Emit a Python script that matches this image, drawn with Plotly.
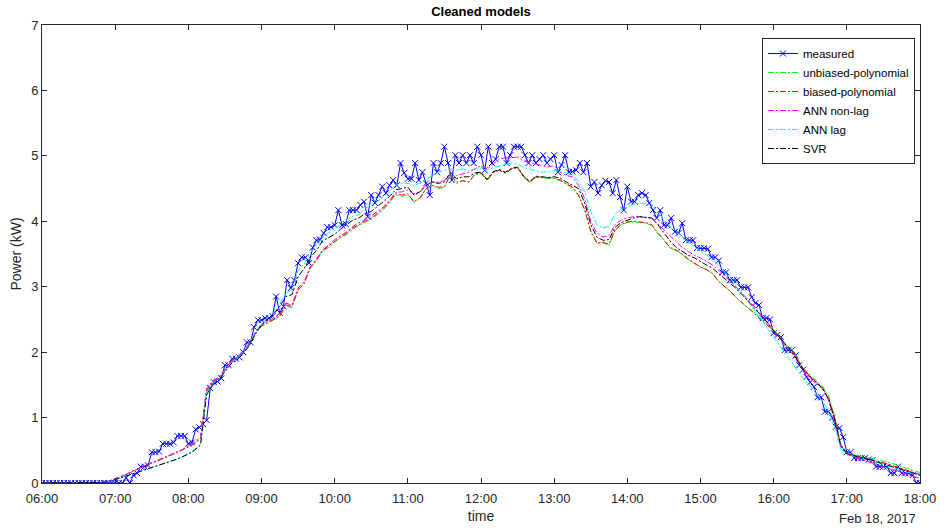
import pandas as pd
import plotly.graph_objects as go

# ---- data ----
measured_time = pd.date_range("2017-02-18 06:00", periods=241, freq="3min")
model_time = pd.date_range("2017-02-18 06:00", periods=145, freq="5min")

measured = [
    0, 0, 0, 0, 0, 0, 0, 0, 0, 0, 0, 0, 0, 0, 0, 0, 0, 0, 0, 0,
    0, 0, 0, 0.08, 0, 0.12, 0.15, 0.25, 0.25, 0.27, 0.47, 0.47, 0.48, 0.6, 0.6, 0.6, 0.62, 0.72, 0.72, 0.72,
    0.6, 0.62, 0.82, 0.85, 0.9, 0.96, 1.45, 1.54, 1.55, 1.6, 1.8, 1.8, 1.9, 1.9, 1.92, 2.0, 2.15, 2.15, 2.38, 2.49,
    2.49, 2.52, 2.52, 2.55, 2.85, 2.6, 2.7, 3.1, 2.98, 3.1, 3.36, 3.45, 3.45, 3.36, 3.6, 3.71, 3.72, 3.82, 3.91, 3.91,
    3.94, 4.17, 3.94, 3.96, 4.17, 4.17, 4.17, 4.25, 4.3, 4.07, 4.4, 4.28, 4.4, 4.53, 4.43, 4.55, 4.63, 4.55, 4.89, 4.74,
    4.65, 4.65, 4.89, 4.63, 4.75, 4.58, 4.4, 4.89, 4.75, 4.89, 5.14, 4.89, 4.63, 5.01, 4.89, 5.01, 4.89, 5.01, 4.89, 5.14,
    5.01, 4.78, 5.14, 4.89, 4.95, 5.14, 5.14, 4.89, 5.01, 5.14, 5.14, 5.14, 5.01, 4.89, 5.01, 4.89, 4.95, 5.01, 4.89, 4.95,
    5.01, 4.75, 4.86, 5.01, 4.75, 4.76, 4.78, 4.89, 4.75, 4.89, 4.53, 4.6, 4.43, 4.55, 4.62, 4.6, 4.43, 4.63, 4.37, 4.17,
    4.53, 4.3, 4.3, 4.4, 4.43, 4.4, 4.28, 4.17, 4.05, 4.17, 3.94, 3.94, 4.05, 3.84, 3.82, 3.97, 3.71, 3.71, 3.71, 3.59,
    3.59, 3.59, 3.58, 3.45, 3.45, 3.4, 3.22, 3.22, 3.1, 3.1, 3.1, 2.99, 2.99, 2.99, 2.84, 2.75, 2.72, 2.52, 2.52, 2.5,
    2.29, 2.26, 2.23, 2.03, 2.03, 2.03, 1.95, 1.8, 1.73, 1.62, 1.54, 1.47, 1.31, 1.31, 1.09, 1.09, 1.0, 0.86, 0.84, 0.7,
    0.47, 0.47, 0.38, 0.38, 0.38, 0.38, 0.36, 0.35, 0.25, 0.25, 0.25, 0.25, 0.15, 0.15, 0.25, 0.15, 0.15, 0.15, 0.12, 0.0,
    0.0,
]

unbiased_poly = [
    0, 0, 0, 0, 0, 0, 0, 0, 0, 0, 0.01, 0.03,
    0.06, 0.1, 0.14, 0.19, 0.23, 0.27, 0.3, 0.34, 0.38, 0.42, 0.46, 0.5,
    0.56, 0.61, 0.69, 1.4, 1.54, 1.6, 1.72, 1.84, 1.9, 2.0, 2.1, 2.28,
    2.4, 2.44, 2.5, 2.55, 2.7, 2.68, 2.95, 3.05, 3.28, 3.4, 3.54, 3.6,
    3.68, 3.75, 3.8, 3.88, 3.94, 3.98, 4.03, 4.1, 4.18, 4.28, 4.4, 4.38,
    4.4, 4.29, 4.35, 4.5, 4.54, 4.5, 4.52, 4.72, 4.58, 4.62, 4.6, 4.71,
    4.73, 4.62, 4.74, 4.78, 4.73, 4.8, 4.82, 4.67, 4.59, 4.67, 4.66, 4.65,
    4.65, 4.62, 4.56, 4.51, 4.39, 4.17, 3.84, 3.66, 3.67, 3.63, 3.86, 3.94,
    3.98, 3.99, 3.98, 3.97, 3.94, 3.81, 3.71, 3.59, 3.55, 3.49, 3.41, 3.35,
    3.3, 3.26, 3.2, 3.08, 3.0, 2.92, 2.82, 2.74, 2.66, 2.6, 2.5, 2.42,
    2.35, 2.24, 2.12, 2.04, 1.9, 1.74, 1.65, 1.57, 1.48, 1.33, 1.02, 0.6,
    0.46, 0.44, 0.42, 0.4, 0.38, 0.36, 0.33, 0.31, 0.28, 0.25, 0.22, 0.19,
    0.16,
]

biased_poly = [
    0, 0, 0, 0, 0, 0, 0, 0, 0, 0, 0.01, 0.03,
    0.06, 0.1, 0.14, 0.19, 0.23, 0.27, 0.3, 0.34, 0.38, 0.42, 0.46, 0.5,
    0.55, 0.6, 0.68, 1.42, 1.55, 1.6, 1.72, 1.85, 1.9, 2.0, 2.12, 2.3,
    2.4, 2.45, 2.5, 2.55, 2.72, 2.7, 2.95, 3.05, 3.3, 3.4, 3.55, 3.62,
    3.7, 3.76, 3.82, 3.9, 3.95, 4.0, 4.05, 4.12, 4.2, 4.3, 4.42, 4.4,
    4.42, 4.3, 4.36, 4.5, 4.55, 4.52, 4.53, 4.72, 4.6, 4.62, 4.6, 4.72,
    4.74, 4.63, 4.75, 4.78, 4.74, 4.8, 4.82, 4.68, 4.6, 4.68, 4.67, 4.66,
    4.66, 4.63, 4.57, 4.52, 4.4, 4.18, 3.85, 3.67, 3.68, 3.65, 3.87, 3.95,
    3.99, 4.0, 3.99, 3.98, 3.95, 3.82, 3.72, 3.6, 3.56, 3.5, 3.42, 3.36,
    3.3, 3.26, 3.2, 3.08, 3.0, 2.92, 2.82, 2.74, 2.65, 2.58, 2.48, 2.4,
    2.33, 2.22, 2.1, 2.02, 1.88, 1.72, 1.63, 1.55, 1.46, 1.3, 1.0, 0.58,
    0.45, 0.42, 0.4, 0.38, 0.36, 0.34, 0.31, 0.28, 0.25, 0.22, 0.19, 0.16,
    0.13,
]

ann_nonlag = [
    0, 0, 0, 0, 0, 0, 0, 0, 0, 0, 0.01, 0.03,
    0.06, 0.1, 0.14, 0.19, 0.23, 0.27, 0.31, 0.35, 0.39, 0.43, 0.47, 0.51,
    0.57, 0.62, 0.7, 1.45, 1.56, 1.62, 1.74, 1.86, 1.92, 2.02, 2.13, 2.3,
    2.42, 2.47, 2.52, 2.58, 2.75, 2.72, 2.98, 3.08, 3.3, 3.42, 3.56, 3.64,
    3.72, 3.78, 3.84, 3.92, 3.98, 4.02, 4.08, 4.15, 4.22, 4.32, 4.44, 4.45,
    4.48, 4.42, 4.45, 4.56, 4.6, 4.6, 4.62, 4.75, 4.7, 4.72, 4.75, 4.8,
    4.85, 4.8, 4.88, 4.95, 4.97, 4.98, 4.98, 4.92, 4.9, 4.88, 4.85, 4.83,
    4.85, 4.75, 4.7, 4.68, 4.55, 4.35, 4.0, 3.82, 3.76, 3.78, 3.95, 4.02,
    4.05, 4.07, 4.07, 4.06, 4.05, 3.96, 3.87, 3.78, 3.68, 3.6, 3.54, 3.48,
    3.44, 3.38, 3.33, 3.25, 3.16, 3.08, 2.98, 2.88, 2.78, 2.68, 2.56, 2.45,
    2.32, 2.2, 2.08, 1.98, 1.84, 1.7, 1.6, 1.52, 1.44, 1.27, 0.95, 0.55,
    0.44, 0.4, 0.37, 0.34, 0.31, 0.28, 0.25, 0.22, 0.18, 0.15, 0.12, 0.09,
    0.07,
]

ann_lag = [
    0, 0, 0, 0, 0, 0, 0, 0, 0, 0, 0.01, 0.02,
    0.05, 0.08, 0.11, 0.14, 0.17, 0.2, 0.23, 0.26, 0.29, 0.32, 0.36, 0.4,
    0.45, 0.51, 0.6, 1.38, 1.52, 1.58, 1.72, 1.84, 1.9, 2.0, 2.12, 2.3,
    2.45, 2.52, 2.6, 2.75, 2.9, 2.95, 3.25, 3.35, 3.52, 3.62, 3.75, 3.82,
    3.88, 3.95, 4.02, 4.08, 4.1, 4.2, 4.25, 4.3, 4.38, 4.45, 4.55, 4.58,
    4.58, 4.55, 4.58, 4.63, 4.7, 4.75, 4.78, 4.8, 4.78, 4.8, 4.78, 4.8,
    4.8, 4.78, 4.82, 4.84, 4.86, 4.89, 4.88, 4.82, 4.8, 4.78, 4.75, 4.76,
    4.78, 4.76, 4.74, 4.72, 4.6, 4.45, 4.15, 3.95, 3.9, 3.92, 4.12, 4.18,
    4.22, 4.26, 4.28, 4.27, 4.25, 4.15, 4.02, 3.92, 3.84, 3.75, 3.68, 3.61,
    3.55, 3.48, 3.42, 3.32, 3.22, 3.12, 3.0, 2.88, 2.75, 2.62, 2.5, 2.36,
    2.23, 2.1, 1.95, 1.85, 1.7, 1.58, 1.48, 1.37, 1.25, 1.1, 0.85, 0.52,
    0.44, 0.41, 0.38, 0.36, 0.34, 0.31, 0.29, 0.26, 0.23, 0.2, 0.17, 0.14,
    0.12,
]

svr = [
    0, 0, 0, 0, 0, 0, 0, 0, 0, 0, 0.01, 0.02,
    0.05, 0.08, 0.11, 0.14, 0.17, 0.2, 0.23, 0.26, 0.29, 0.32, 0.36, 0.4,
    0.44, 0.5, 0.58, 1.35, 1.5, 1.58, 1.7, 1.82, 1.88, 1.98, 2.1, 2.28,
    2.42, 2.5, 2.58, 2.7, 2.85, 2.88, 3.15, 3.28, 3.45, 3.55, 3.7, 3.75,
    3.8, 3.88, 3.95, 4.02, 4.05, 4.12, 4.15, 4.22, 4.3, 4.38, 4.48, 4.5,
    4.52, 4.4, 4.45, 4.55, 4.6, 4.58, 4.6, 4.74, 4.65, 4.68, 4.68, 4.74,
    4.75, 4.64, 4.76, 4.79, 4.75, 4.81, 4.83, 4.69, 4.61, 4.69, 4.68, 4.67,
    4.68, 4.66, 4.6, 4.55, 4.5, 4.28, 3.95, 3.76, 3.71, 3.72, 3.91, 3.98,
    4.02, 4.05, 4.07, 4.06, 4.05, 3.95, 3.82, 3.7, 3.6, 3.54, 3.48, 3.44,
    3.38, 3.33, 3.28, 3.2, 3.12, 3.05, 2.96, 2.86, 2.76, 2.66, 2.56, 2.45,
    2.33, 2.22, 2.1, 2.0, 1.86, 1.72, 1.62, 1.54, 1.45, 1.28, 0.98, 0.57,
    0.45, 0.42, 0.39, 0.37, 0.35, 0.32, 0.3, 0.27, 0.24, 0.21, 0.18, 0.15,
    0.12,
]

model_names = ["unbiased-polynomial", "biased-polynomial", "ANN non-lag", "ANN lag", "SVR"]
model_values = [unbiased_poly, biased_poly, ann_nonlag, ann_lag, svr]
model_colors = ["#00ff00", "#ff0000", "#ff00ff", "#00ffff", "#000000"]

x_tick_labels = ["06:00", "07:00", "08:00", "09:00", "10:00", "11:00", "12:00",
                 "13:00", "14:00", "15:00", "16:00", "17:00", "18:00"]
x_tick_vals = pd.date_range("2017-02-18 06:00", periods=13, freq="1h")

# ---- figure ----
fig = go.Figure()
fig.add_trace(go.Scatter(
    x=measured_time, y=measured, name="measured", mode="lines+markers",
    line=dict(color="#0000ff", width=1),
    marker=dict(symbol="x-thin-open", size=6, line=dict(color="#0000ff", width=1)),
))
for name, vals, col in zip(model_names, model_values, model_colors):
    fig.add_trace(go.Scatter(
        x=model_time, y=vals, name=name, mode="lines",
        line=dict(color=col, width=1, dash="6px,2px,2px,2px"),
    ))

axis_col = "#262626"
fig.update_layout(
    width=948, height=530,
    margin=dict(l=42, r=28, t=25, b=47, autoexpand=False),
    paper_bgcolor="white", plot_bgcolor="white",
    font=dict(family="Liberation Sans, Arial, sans-serif", size=13, color=axis_col),
    title=dict(text="<b>Cleaned models</b>", x=(42 + 920) / 2 / 948, xanchor="center",
               y=1 - 11 / 530, yanchor="middle", font=dict(size=13, color="#000000")),
    showlegend=True,
    legend=dict(x=0.9943, xanchor="right", y=0.9716, yanchor="top",
                bgcolor="white", bordercolor=axis_col, borderwidth=1,
                font=dict(size=11.5, color="#000000"), tracegroupgap=0,
                itemwidth=30),
    xaxis=dict(
        range=[pd.Timestamp("2017-02-18 06:00"), pd.Timestamp("2017-02-18 18:00")],
        tickvals=x_tick_vals, ticktext=x_tick_labels, automargin=False,
        ticks="inside", ticklen=5, tickcolor=axis_col, tickwidth=1,
        showline=True, linecolor=axis_col, linewidth=1, mirror="allticks",
        showgrid=False, zeroline=False, ticklabelstandoff=3,
        title=dict(text="time", standoff=6, font=dict(size=14)),
        tickfont=dict(size=13),
    ),
    yaxis=dict(
        range=[0, 7], dtick=1, automargin=False,
        ticks="inside", ticklen=5, tickcolor=axis_col, tickwidth=1,
        showline=True, linecolor=axis_col, linewidth=1, mirror="allticks",
        showgrid=False, zeroline=False,
        title=dict(text="Power (kW)", standoff=6, font=dict(size=14)),
        tickfont=dict(size=13),
    ),
)
fig.add_annotation(text="Feb 18, 2017", xref="paper", yref="paper",
                   x=(918 - 42) / 878, xanchor="right", y=(483 - 518) / 458, yanchor="middle",
                   showarrow=False, font=dict(size=13, color=axis_col))

fig.write_html("out.html")
